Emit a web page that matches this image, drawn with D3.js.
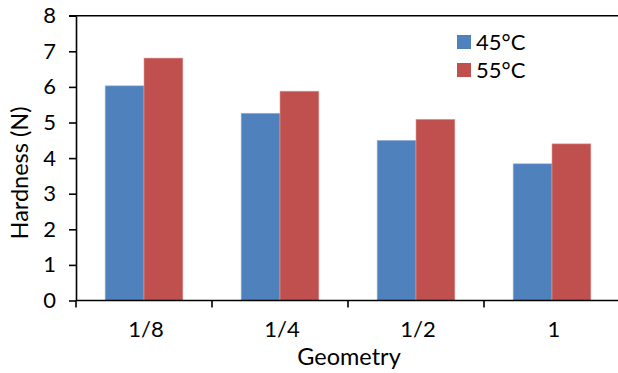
<!DOCTYPE html>
<html>
<head>
<meta charset="utf-8">
<script src="https://cdn.jsdelivr.net/npm/d3@7"></script>
<style>
  body { margin: 0; background: #fff; }
  text { font-family: Lato, "Open Sans", sans-serif; fill: #000; }
</style>
</head>
<body>
<div id="chart"></div>
<script>
const categories = ["1/8", "1/4", "1/2", "1"];
const seriesNames = ["45°C", "55°C"];
const values45 = [6.03, 5.26, 4.50, 3.84];
const values55 = [6.81, 5.88, 5.09, 4.40];
const yTicks = [0, 1, 2, 3, 4, 5, 6, 7, 8];
const colors = ["#4F81BD", "#C0504D"];

const W = 618, H = 373;
const MARGIN = { LEFT: 76, RIGHT: -2, TOP: 15.7, BOTTOM: 72.5 };
const innerW = W - MARGIN.LEFT - MARGIN.RIGHT;
const innerH = H - MARGIN.TOP - MARGIN.BOTTOM;

const svg = d3.select("#chart").append("svg")
    .attr("width", W)
    .attr("height", H);

const g = svg.append("g")
    .attr("transform", `translate(${MARGIN.LEFT}, ${MARGIN.TOP})`);

const x = d3.scaleBand()
    .domain(categories)
    .range([0, innerW]);

// gap width 150% -> each group 2 bars, gap = 1.5 bar widths
const barW = x.bandwidth() / 3.5;
const xSub = d3.scaleBand()
    .domain(seriesNames)
    .range([barW * 0.75, barW * 2.75]);

const y = d3.scaleLinear()
    .domain([0, 8])
    .range([innerH, 0]);

const rows = categories.map((c, i) => ({ cat: c, vals: [values45[i], values55[i]] }));

// bars
const groups = g.selectAll(".grp")
    .data(rows)
    .enter().append("g")
    .attr("class", "grp")
    .attr("transform", d => `translate(${x(d.cat)},0)`);

groups.selectAll("rect")
    .data(d => d.vals.map((v, k) => ({ s: seriesNames[k], v: v, k: k })))
    .enter().append("rect")
    .attr("x", d => xSub(d.s))
    .attr("y", d => y(d.v))
    .attr("width", xSub.bandwidth())
    .attr("height", d => innerH - y(d.v))
    .attr("fill", d => colors[d.k])
    .attr("stroke", d => d.k === 0 ? "#9db7dc" : "#dc9d9b")
    .attr("stroke-width", 0.6);

// y axis
const yAxis = g.append("g")
    .call(d3.axisLeft(y).tickValues(yTicks).tickSize(7).tickSizeOuter(0).tickPadding(13));
yAxis.select(".domain").attr("stroke", "#000").attr("stroke-width", 1.6);
yAxis.selectAll(".tick line").attr("stroke", "#000").attr("stroke-width", 1.6);
yAxis.selectAll("text")
    .attr("font-size", "22px")
    .style("font-family", "Lato, sans-serif");

// top border line at y max
g.append("line")
    .attr("x1", -7).attr("x2", innerW)
    .attr("y1", y(8)).attr("y2", y(8))
    .attr("stroke", "#000").attr("stroke-width", 1.6);

// x axis (ticks at category boundaries)
const xAxisG = g.append("g")
    .attr("transform", `translate(0, ${innerH})`);
xAxisG.append("line")
    .attr("x1", 0).attr("x2", innerW)
    .attr("stroke", "#000").attr("stroke-width", 1.6);
xAxisG.selectAll(".xt")
    .data(categories)
    .enter().append("line")
    .attr("class", "xt")
    .attr("x1", d => x(d)).attr("x2", d => x(d))
    .attr("y1", 0).attr("y2", 7)
    .attr("stroke", "#000").attr("stroke-width", 1.6);
xAxisG.selectAll(".xl")
    .data(categories)
    .enter().append("text")
    .attr("class", "xl")
    .attr("x", d => x(d) + x.bandwidth() / 2 + 2)
    .attr("y", 36)
    .attr("text-anchor", "middle")
    .attr("font-size", "22px")
    .text(d => d);

// axis titles
svg.append("text")
    .attr("x", 349)
    .attr("y", 365)
    .attr("text-anchor", "middle")
    .attr("font-size", "23.5px")
    .text("Geometry");

svg.append("text")
    .attr("transform", `translate(28, 173) rotate(-90)`)
    .attr("text-anchor", "middle")
    .attr("font-size", "23.5px")
    .text("Hardness (N)");

// legend
const legend = svg.append("g").attr("transform", "translate(457, 35)");
seriesNames.forEach((s, k) => {
    const row = legend.append("g").attr("transform", `translate(0, ${k * 28})`);
    row.append("rect")
        .attr("width", 14).attr("height", 14)
        .attr("fill", colors[k]);
    row.append("text")
        .attr("x", 19).attr("y", 7)
        .attr("dy", "0.35em")
        .attr("font-size", "22px")
        .text(s);
});
</script>
</body>
</html>
